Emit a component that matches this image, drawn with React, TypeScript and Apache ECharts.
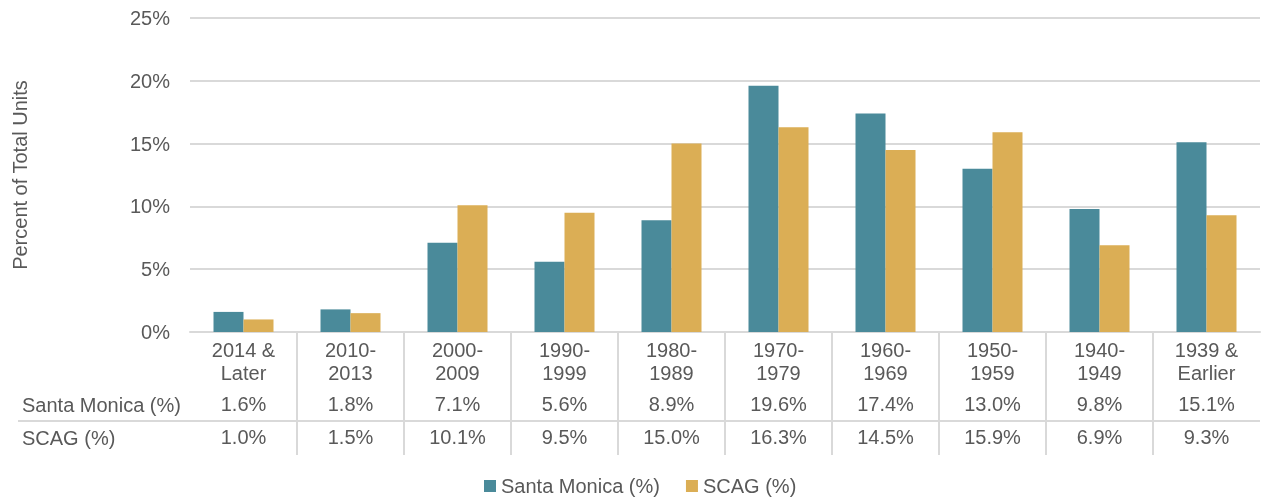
import React, { useEffect, useRef } from "react";
import * as echarts from "echarts";

const categories = ["2014 &\nLater", "2010-\n2013", "2000-\n2009", "1990-\n1999", "1980-\n1989", "1970-\n1979", "1960-\n1969", "1950-\n1959", "1940-\n1949", "1939 &\nEarlier"];
const santaMonica = [1.6, 1.8, 7.1, 5.6, 8.9, 19.6, 17.4, 13.0, 9.8, 15.1];
const scag = [1.0, 1.5, 10.1, 9.5, 15.0, 16.3, 14.5, 15.9, 6.9, 9.3];
const seriesNames = ["Santa Monica (%)", "SCAG (%)"];
const yTicks = { min: 0, max: 25, interval: 5 };

const FONT = "Liberation Sans";
const FS = 20;
const TXT = "#595959";
const LINE = "#d9d9d9";
const C1 = "#4a8a9a";
const C2 = "#dbae55";

export default function App() {
  const ref = useRef<HTMLDivElement>(null);
  useEffect(() => {
    const chart = echarts.init(ref.current!, null, { renderer: "svg" });
    const L = 190, R = 2, TOP = 18, BOT = 332, TBOT = 455;
    chart.setOption({
      animation: false,
      textStyle: { fontFamily: FONT, color: TXT },
      grid: [
        { left: L, right: R, top: TOP, height: BOT - TOP },
        { left: L, right: R, top: BOT, height: TBOT - BOT },
      ],
      legend: {
        data: seriesNames,
        left: 484,
        top: 475,
        padding: 0,
        itemWidth: 12,
        itemHeight: 12,
        itemGap: 26,
        icon: "rect",
        textStyle: { fontFamily: FONT, fontSize: FS, color: TXT, lineHeight: 22 },
      },
      xAxis: [
        {
          type: "category",
          gridIndex: 0,
          data: categories,
          axisLine: { lineStyle: { color: LINE, width: 2 } },
          axisTick: { show: false },
          axisLabel: { color: TXT, fontSize: FS, fontFamily: FONT, lineHeight: 23, margin: 6, interval: 0 },
        },
        {
          type: "category",
          gridIndex: 1,
          data: categories,
          position: "top",
          axisLine: { show: false },
          axisTick: { show: false },
          axisLabel: { show: false },
          splitLine: { show: true, showMinLine: false, showMaxLine: false, lineStyle: { color: LINE, width: 2 } },
        },
        {
          type: "category",
          gridIndex: 1,
          data: categories,
          position: "top",
          axisLine: { show: false },
          axisTick: { show: false },
          axisLabel: {
            inside: true,
            margin: 62,
            color: TXT,
            fontSize: FS,
            fontFamily: FONT,
            interval: 0,
            formatter: (_v: string, i: number) => santaMonica[i].toFixed(1) + "%",
          },
        },
        {
          type: "category",
          gridIndex: 1,
          data: categories,
          position: "top",
          axisLine: { show: false },
          axisTick: { show: false },
          axisLabel: {
            inside: true,
            margin: 95,
            color: TXT,
            fontSize: FS,
            fontFamily: FONT,
            interval: 0,
            formatter: (_v: string, i: number) => scag[i].toFixed(1) + "%",
          },
        },
      ],
      yAxis: [
        {
          type: "value",
          gridIndex: 0,
          ...yTicks,
          name: "Percent of Total Units",
          nameLocation: "middle",
          nameGap: 160,
          nameTextStyle: { color: TXT, fontSize: FS, fontFamily: FONT },
          axisLabel: { formatter: "{value}%", color: TXT, fontSize: FS, fontFamily: FONT, margin: 20 },
          splitLine: { lineStyle: { color: LINE, width: 2 } },
        },
        {
          type: "value",
          gridIndex: 1,
          show: false,
          splitLine: { show: false },
        },
      ],
      graphic: [
        { type: "line", shape: { x1: 18, y1: 421, x2: 1262 - R, y2: 421 }, style: { stroke: LINE, lineWidth: 2 } },
        { type: "text", x: 22, y: 405, style: { text: seriesNames[0], fill: TXT, font: `${FS}px "${FONT}"`, textVerticalAlign: "middle" } },
        { type: "text", x: 22, y: 438, style: { text: seriesNames[1], fill: TXT, font: `${FS}px "${FONT}"`, textVerticalAlign: "middle" } },
      ],
      series: [
        { name: seriesNames[0], type: "bar", xAxisIndex: 0, yAxisIndex: 0, data: santaMonica, barWidth: 30, barGap: "0%", itemStyle: { color: C1 } },
        { name: seriesNames[1], type: "bar", xAxisIndex: 0, yAxisIndex: 0, data: scag, barWidth: 30, barGap: "0%", itemStyle: { color: C2 } },
      ],
    });
    return () => chart.dispose();
  }, []);
  return <div ref={ref} style={{ position: "fixed", left: 0, top: 0, width: 1262, height: 497 }} />;
}
